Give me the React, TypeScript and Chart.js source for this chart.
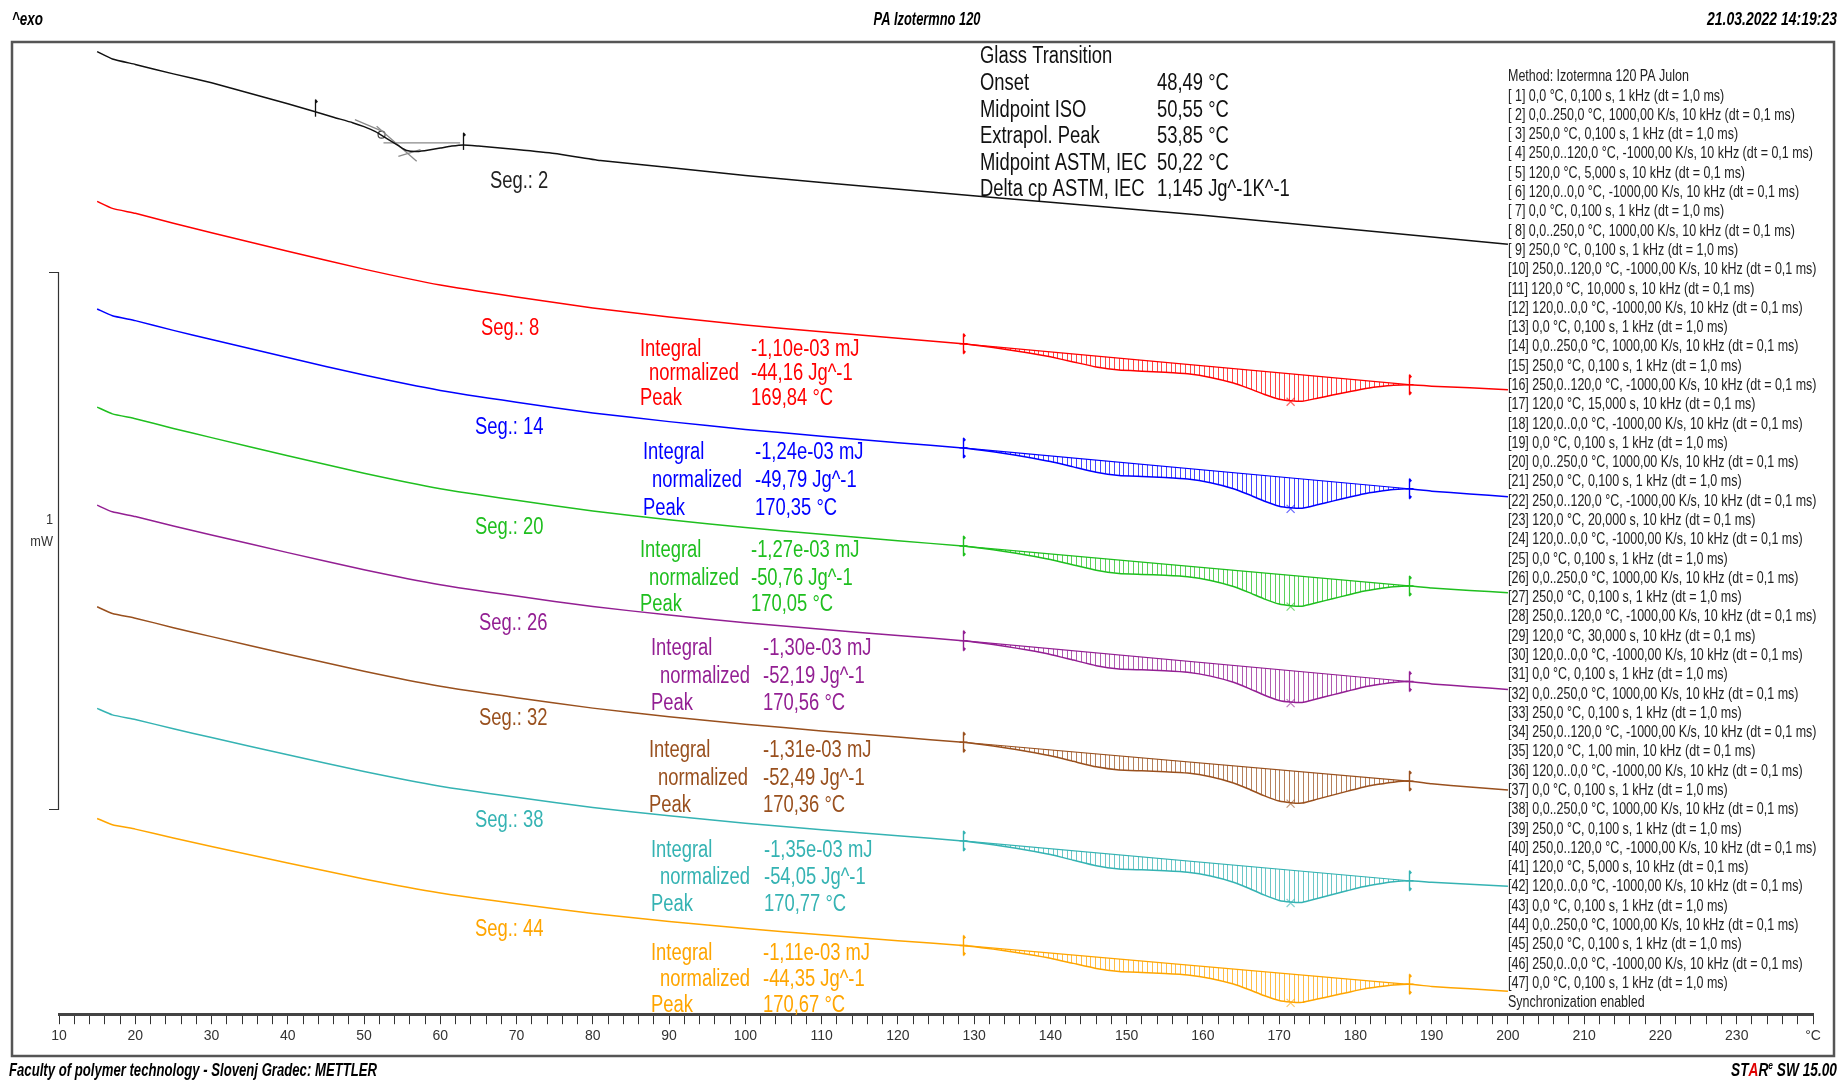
import React, { useEffect, useRef } from "react";
import { Chart, registerables } from "chart.js";

Chart.register(...registerables);

// ---------------- DATA ----------------
// Seg. 2 (black, glass transition)
const blackTemps = [15, 17, 20, 25, 30, 35, 40, 43.6, 46, 48.5, 50, 51.5, 53, 54.5, 55.6, 57, 58.5, 60, 61.5, 63, 65, 70, 75, 81, 90, 100, 110, 125, 140, 160, 178, 200];
const seg2 = [1.7996, 1.7858, 1.7756, 1.7579, 1.7412, 1.7216, 1.702, 1.6872, 1.6769, 1.6667, 1.6592, 1.6499, 1.6369, 1.6238, 1.6145, 1.6127, 1.6155, 1.6192, 1.6229, 1.6251, 1.6229, 1.6164, 1.6089, 1.5959, 1.5829, 1.568, 1.5549, 1.5363, 1.5177, 1.4935, 1.4693, 1.4395];

// Seg. 8 ... 44 (melting curves), temperatures in °C, heat flow in mW (stacked)
const meltTemps = [15, 17, 20, 25, 30, 40, 50, 60, 70, 80, 90, 100, 110, 120, 128.5, 131, 134, 137, 140, 143, 146, 149, 152, 155, 158, 161, 164, 166, 168, 170, 171.5, 173, 175, 177, 179, 181, 183, 185, 187, 190, 195, 200];
const seg8 = [1.5196, 1.5065, 1.4972, 1.4786, 1.4609, 1.4264, 1.3929, 1.3631, 1.3408, 1.3203, 1.3035, 1.2886, 1.2756, 1.2635, 1.2533, 1.2491, 1.2433, 1.2366, 1.2289, 1.2194, 1.21, 1.2042, 1.2021, 1.2001, 1.1971, 1.1904, 1.1799, 1.1699, 1.1589, 1.1497, 1.1469, 1.1458, 1.1516, 1.1574, 1.1631, 1.1689, 1.1728, 1.1758, 1.1769, 1.1741, 1.1709, 1.1676];
const seg14 = [1.3184, 1.3057, 1.2966, 1.2784, 1.2613, 1.2275, 1.1948, 1.166, 1.1441, 1.1241, 1.1078, 1.0932, 1.0805, 1.0685, 1.0587, 1.0544, 1.0484, 1.0414, 1.0333, 1.0232, 1.0131, 1.0071, 1.0053, 1.0034, 1.0005, 0.9935, 0.9823, 0.9715, 0.9595, 0.9497, 0.9467, 0.9458, 0.9524, 0.9592, 0.9659, 0.9726, 0.9772, 0.9808, 0.9823, 0.9778, 0.9726, 0.9674];
const seg20 = [1.135, 1.1223, 1.1132, 1.095, 1.0779, 1.0441, 1.0114, 0.9825, 0.9607, 0.9407, 0.9243, 0.9098, 0.8971, 0.8851, 0.8752, 0.871, 0.8651, 0.8581, 0.8501, 0.8399, 0.8299, 0.8239, 0.8222, 0.8205, 0.8177, 0.8107, 0.7995, 0.7886, 0.7765, 0.7667, 0.7637, 0.7628, 0.7697, 0.7767, 0.7836, 0.7905, 0.7953, 0.7991, 0.8007, 0.7968, 0.7923, 0.7877];
const seg26 = [0.9516, 0.9392, 0.9303, 0.9126, 0.8959, 0.8629, 0.831, 0.8029, 0.7816, 0.7621, 0.7462, 0.732, 0.7196, 0.708, 0.6983, 0.694, 0.6879, 0.6807, 0.6725, 0.662, 0.6516, 0.6455, 0.6438, 0.642, 0.6392, 0.632, 0.6205, 0.6092, 0.5968, 0.5866, 0.5835, 0.5827, 0.5898, 0.597, 0.6042, 0.6113, 0.6163, 0.6202, 0.622, 0.6175, 0.6123, 0.6071];
const seg32 = [0.7616, 0.7492, 0.7404, 0.7226, 0.7059, 0.673, 0.6411, 0.613, 0.5917, 0.5722, 0.5562, 0.5421, 0.5296, 0.518, 0.5084, 0.5042, 0.4982, 0.4912, 0.4831, 0.4727, 0.4624, 0.4565, 0.455, 0.4534, 0.4508, 0.4438, 0.4323, 0.421, 0.4086, 0.3984, 0.3954, 0.3947, 0.4021, 0.4096, 0.417, 0.4244, 0.4297, 0.4338, 0.4358, 0.4307, 0.4249, 0.419];
const seg38 = [0.5717, 0.5596, 0.5509, 0.5336, 0.5172, 0.485, 0.4538, 0.4263, 0.4055, 0.3864, 0.3708, 0.357, 0.3448, 0.3334, 0.324, 0.3197, 0.3137, 0.3066, 0.2984, 0.2879, 0.2775, 0.2715, 0.2699, 0.2682, 0.2655, 0.2584, 0.2468, 0.2355, 0.223, 0.2127, 0.2097, 0.2089, 0.2162, 0.2236, 0.2311, 0.2384, 0.2436, 0.2477, 0.2495, 0.2465, 0.2429, 0.2393];
const seg44 = [0.3659, 0.3543, 0.346, 0.3293, 0.3137, 0.2828, 0.2529, 0.2266, 0.2066, 0.1883, 0.1734, 0.1601, 0.1484, 0.1375, 0.1285, 0.1244, 0.1188, 0.1121, 0.1046, 0.095, 0.0855, 0.0799, 0.0781, 0.0763, 0.0735, 0.0669, 0.0564, 0.0462, 0.035, 0.0258, 0.023, 0.0221, 0.0283, 0.0345, 0.0407, 0.0469, 0.0512, 0.0545, 0.0559, 0.052, 0.0474, 0.0428];

const segLabels = ["Seg.: 2", "Seg.: 8", "Seg.: 14", "Seg.: 20", "Seg.: 26", "Seg.: 32", "Seg.: 38", "Seg.: 44"];
const curveColors = ["#111111", "#ff0000", "#0000ff", "#1fbf1f", "#931f93", "#99501e", "#35b3b3", "#ffa500"];
const integralValues = ["-1,10e-03 mJ", "-1,24e-03 mJ", "-1,27e-03 mJ", "-1,30e-03 mJ", "-1,31e-03 mJ", "-1,35e-03 mJ", "-1,11e-03 mJ"];
const normalizedValues = ["-44,16 Jg^-1", "-49,79 Jg^-1", "-50,76 Jg^-1", "-52,19 Jg^-1", "-52,49 Jg^-1", "-54,05 Jg^-1", "-44,35 Jg^-1"];
const peakValues = ["169,84 °C", "170,35 °C", "170,05 °C", "170,56 °C", "170,36 °C", "170,77 °C", "170,67 °C"];
const integrationLimits = [128.5, 187];
const glassLimits = [43.6, 63];

const glassLabels = ["Onset", "Midpoint ISO", "Extrapol. Peak", "Midpoint ASTM, IEC", "Delta cp ASTM, IEC"];
const glassValues = ["48,49 °C", "50,55 °C", "53,85 °C", "50,22 °C", "1,145 Jg^-1K^-1"];
const tgTangentPre = [[48.8, 1.6723], [52.2, 1.6518]];
const tgTangentInflection = [[51.65, 1.6598], [56.9, 1.5946]];
const tgTangentPost = [[54.5, 1.6039], [57.4, 1.6164]];
const tgStepLine = [[52.55, 1.6289], [62.6, 1.6289]];
const tgMidpoint = [52.3, 1.6443];

const xTickMin = 10;
const xTickMax = 240;
const xTickStep = 2;
const xLabelStep = 10;
const xUnitLabel = "°C";

const methodTitle = "Method: Izotermna 120 PA Julon";
const methodLines = [
  "[ 1] 0,0 °C, 0,100 s, 1 kHz (dt = 1,0 ms)",
  "[ 2] 0,0..250,0 °C, 1000,00 K/s, 10 kHz (dt = 0,1 ms)",
  "[ 3] 250,0 °C, 0,100 s, 1 kHz (dt = 1,0 ms)",
  "[ 4] 250,0..120,0 °C, -1000,00 K/s, 10 kHz (dt = 0,1 ms)",
  "[ 5] 120,0 °C, 5,000 s, 10 kHz (dt = 0,1 ms)",
  "[ 6] 120,0..0,0 °C, -1000,00 K/s, 10 kHz (dt = 0,1 ms)",
  "[ 7] 0,0 °C, 0,100 s, 1 kHz (dt = 1,0 ms)",
  "[ 8] 0,0..250,0 °C, 1000,00 K/s, 10 kHz (dt = 0,1 ms)",
  "[ 9] 250,0 °C, 0,100 s, 1 kHz (dt = 1,0 ms)",
  "[10] 250,0..120,0 °C, -1000,00 K/s, 10 kHz (dt = 0,1 ms)",
  "[11] 120,0 °C, 10,000 s, 10 kHz (dt = 0,1 ms)",
  "[12] 120,0..0,0 °C, -1000,00 K/s, 10 kHz (dt = 0,1 ms)",
  "[13] 0,0 °C, 0,100 s, 1 kHz (dt = 1,0 ms)",
  "[14] 0,0..250,0 °C, 1000,00 K/s, 10 kHz (dt = 0,1 ms)",
  "[15] 250,0 °C, 0,100 s, 1 kHz (dt = 1,0 ms)",
  "[16] 250,0..120,0 °C, -1000,00 K/s, 10 kHz (dt = 0,1 ms)",
  "[17] 120,0 °C, 15,000 s, 10 kHz (dt = 0,1 ms)",
  "[18] 120,0..0,0 °C, -1000,00 K/s, 10 kHz (dt = 0,1 ms)",
  "[19] 0,0 °C, 0,100 s, 1 kHz (dt = 1,0 ms)",
  "[20] 0,0..250,0 °C, 1000,00 K/s, 10 kHz (dt = 0,1 ms)",
  "[21] 250,0 °C, 0,100 s, 1 kHz (dt = 1,0 ms)",
  "[22] 250,0..120,0 °C, -1000,00 K/s, 10 kHz (dt = 0,1 ms)",
  "[23] 120,0 °C, 20,000 s, 10 kHz (dt = 0,1 ms)",
  "[24] 120,0..0,0 °C, -1000,00 K/s, 10 kHz (dt = 0,1 ms)",
  "[25] 0,0 °C, 0,100 s, 1 kHz (dt = 1,0 ms)",
  "[26] 0,0..250,0 °C, 1000,00 K/s, 10 kHz (dt = 0,1 ms)",
  "[27] 250,0 °C, 0,100 s, 1 kHz (dt = 1,0 ms)",
  "[28] 250,0..120,0 °C, -1000,00 K/s, 10 kHz (dt = 0,1 ms)",
  "[29] 120,0 °C, 30,000 s, 10 kHz (dt = 0,1 ms)",
  "[30] 120,0..0,0 °C, -1000,00 K/s, 10 kHz (dt = 0,1 ms)",
  "[31] 0,0 °C, 0,100 s, 1 kHz (dt = 1,0 ms)",
  "[32] 0,0..250,0 °C, 1000,00 K/s, 10 kHz (dt = 0,1 ms)",
  "[33] 250,0 °C, 0,100 s, 1 kHz (dt = 1,0 ms)",
  "[34] 250,0..120,0 °C, -1000,00 K/s, 10 kHz (dt = 0,1 ms)",
  "[35] 120,0 °C, 1,00 min, 10 kHz (dt = 0,1 ms)",
  "[36] 120,0..0,0 °C, -1000,00 K/s, 10 kHz (dt = 0,1 ms)",
  "[37] 0,0 °C, 0,100 s, 1 kHz (dt = 1,0 ms)",
  "[38] 0,0..250,0 °C, 1000,00 K/s, 10 kHz (dt = 0,1 ms)",
  "[39] 250,0 °C, 0,100 s, 1 kHz (dt = 1,0 ms)",
  "[40] 250,0..120,0 °C, -1000,00 K/s, 10 kHz (dt = 0,1 ms)",
  "[41] 120,0 °C, 5,000 s, 10 kHz (dt = 0,1 ms)",
  "[42] 120,0..0,0 °C, -1000,00 K/s, 10 kHz (dt = 0,1 ms)",
  "[43] 0,0 °C, 0,100 s, 1 kHz (dt = 1,0 ms)",
  "[44] 0,0..250,0 °C, 1000,00 K/s, 10 kHz (dt = 0,1 ms)",
  "[45] 250,0 °C, 0,100 s, 1 kHz (dt = 1,0 ms)",
  "[46] 250,0..0,0 °C, -1000,00 K/s, 10 kHz (dt = 0,1 ms)",
  "[47] 0,0 °C, 0,100 s, 1 kHz (dt = 1,0 ms)",
];
const methodFooter = "Synchronization enabled";

const headerLeft = "^exo";
const headerTitle = "PA Izotermno 120";
const headerDate = "21.03.2022 14:19:23";
const footerLeft = "Faculty of polymer technology - Slovenj Gradec: METTLER";
const scaleBarLabel = ["1", "mW"];

// ---------------- LAYOUT (pixels) ----------------
const FONT = '"Liberation Sans", Arial, sans-serif';
const BIG = 23;
const BIG_SX = 0.8;
const SMALL = 16;
const SMALL_SX = 0.78;
const segLabelPos = [[490, 182], [481, 329], [475, 428], [475, 528], [479, 624], [479, 719], [475, 821], [475, 930]];
const blockPos = [
  [640, 751, 350, 374, 399],
  [643, 755, 453, 481, 509],
  [640, 751, 551, 579, 605],
  [651, 763, 649, 677, 704],
  [649, 763, 751, 779, 806],
  [651, 764, 851, 878, 905],
  [651, 763, 954, 980, 1006],
];

const meltSeries = [seg8, seg14, seg20, seg26, seg32, seg38, seg44];

function interp(xs: number[], ys: number[], t: number) {
  if (t <= xs[0]) return ys[0];
  for (let i = 1; i < xs.length; i++) {
    if (t <= xs[i]) {
      const f = (t - xs[i - 1]) / (xs[i] - xs[i - 1]);
      return ys[i - 1] + f * (ys[i] - ys[i - 1]);
    }
  }
  return ys[ys.length - 1];
}

function rgba(hex: string, a: number) {
  const n = parseInt(hex.slice(1), 16);
  return `rgba(${(n >> 16) & 255},${(n >> 8) & 255},${n & 255},${a})`;
}

function text(ctx: any, s: string, x: number, y: number, size: number, color: string, sx = BIG_SX, align = "left", style = "") {
  ctx.save();
  ctx.font = `${style} ${size}px ${FONT}`;
  ctx.fillStyle = color;
  ctx.textBaseline = "middle";
  ctx.textAlign = align;
  ctx.translate(x, y);
  ctx.scale(sx, 1);
  ctx.fillText(s, 0, 0);
  ctx.restore();
}

function fitText(ctx: any, s: string, x: number, y: number, size: number, color: string, width: number, align = "left", style = "") {
  ctx.save();
  ctx.font = `${style} ${size}px ${FONT}`;
  const w = ctx.measureText(s).width;
  ctx.restore();
  text(ctx, s, x, y, size, color, width / w, align, style);
}

const decorPlugin = {
  id: "decor",
  beforeDatasetsDraw(chart: any) {
    const { ctx, scales } = chart;
    const xs = scales.x, ys = scales.y;
    const [t0, t1] = integrationLimits;
    meltSeries.forEach((vals, k) => {
      const b0 = interp(meltTemps, vals, t0);
      const b1 = interp(meltTemps, vals, t1);
      ctx.save();
      ctx.strokeStyle = rgba(curveColors[k + 1], 0.72);
      ctx.lineWidth = 1;
      ctx.beginPath();
      for (let t = t0 + 0.62; t < t1 - 0.2; t += 0.62) {
        const c = interp(meltTemps, vals, t);
        const b = b0 + ((b1 - b0) * (t - t0)) / (t1 - t0);
        const px = Math.round(xs.getPixelForValue(t)) + 0.5;
        ctx.moveTo(px, ys.getPixelForValue(b));
        ctx.lineTo(px, ys.getPixelForValue(c));
      }
      ctx.stroke();
      ctx.restore();
    });
  },
  afterDatasetsDraw(chart: any) {
    const { ctx, scales } = chart;
    const xs = scales.x, ys = scales.y;
    const [t0, t1] = integrationLimits;
    meltSeries.forEach((vals, k) => {
      const col = curveColors[k + 1];
      ctx.save();
      ctx.strokeStyle = col;
      ctx.fillStyle = col;
      ctx.lineWidth = 1.4;
      [t0, t1].forEach((t) => {
        const px = Math.round(xs.getPixelForValue(t)) + 0.5;
        const py = ys.getPixelForValue(interp(meltTemps, vals, t));
        ctx.beginPath();
        ctx.moveTo(px, py - 10);
        ctx.lineTo(px, py + 10);
        ctx.moveTo(px - 4, py);
        ctx.lineTo(px + 4, py);
        ctx.stroke();
        ctx.beginPath();
        ctx.moveTo(px, py - 11);
        ctx.lineTo(px + 2.5, py - 8);
        ctx.lineTo(px, py - 6);
        ctx.closePath();
        ctx.fill();
        ctx.beginPath();
        ctx.moveTo(px, py + 11);
        ctx.lineTo(px + 2.5, py + 8);
        ctx.lineTo(px, py + 6);
        ctx.closePath();
        ctx.fill();
      });
      // peak cross at maximum depth below the baseline
      const b0 = interp(meltTemps, vals, t0);
      const b1 = interp(meltTemps, vals, t1);
      let best = -1, bestD = -1;
      meltTemps.forEach((t, i) => {
        if (t <= t0 || t >= t1) return;
        const d = b0 + ((b1 - b0) * (t - t0)) / (t1 - t0) - vals[i];
        if (d > bestD) { bestD = d; best = i; }
      });
      const cx = xs.getPixelForValue(meltTemps[best]);
      const cy = ys.getPixelForValue(vals[best]) + 1;
      ctx.strokeStyle = rgba(col, 0.6);
      ctx.lineWidth = 1.2;
      ctx.beginPath();
      ctx.moveTo(cx - 4, cy - 4);
      ctx.lineTo(cx + 4, cy + 4);
      ctx.moveTo(cx + 4, cy - 4);
      ctx.lineTo(cx - 4, cy + 4);
      ctx.stroke();
      ctx.restore();
    });
    // glass transition limit markers
    ctx.save();
    ctx.strokeStyle = "#111";
    ctx.fillStyle = "#111";
    ctx.lineWidth = 1.3;
    glassLimits.forEach((t) => {
      const px = Math.round(xs.getPixelForValue(t)) + 0.5;
      const py = ys.getPixelForValue(interp(blackTemps, seg2, t));
      ctx.beginPath();
      ctx.moveTo(px, py - 12);
      ctx.lineTo(px, py + 5);
      ctx.stroke();
      ctx.beginPath();
      ctx.moveTo(px, py - 13);
      ctx.lineTo(px + 2.5, py - 10);
      ctx.lineTo(px, py - 8);
      ctx.closePath();
      ctx.fill();
    });
    ctx.restore();
  },
  afterDraw(chart: any) {
    const ctx = chart.ctx;
    // frame
    ctx.save();
    ctx.strokeStyle = "#555";
    ctx.lineWidth = 2.5;
    ctx.strokeRect(12, 42, 1822, 1014);
    ctx.restore();

    // header
    fitText(ctx, headerLeft, 12, 20, 18, "#000", 31, "left", "italic bold");
    fitText(ctx, headerTitle, 927, 20, 18, "#000", 107, "center", "italic bold");
    fitText(ctx, headerDate, 1837, 20, 18, "#000", 130, "right", "italic bold");

    // footer
    fitText(ctx, footerLeft, 9, 1071, 18, "#000", 368, "left", "italic bold");
    {
      const parts: [string, string, number, number][] = [["ST", "#000", 18, 0], ["A", "#e00000", 18, 0], ["R", "#000", 18, 0], ["e", "#000", 11, -5], [" SW 15.00", "#000", 18, 0]];
      ctx.save();
      let total = 0;
      const widths = parts.map(([s, , sz]) => {
        ctx.font = `italic bold ${sz}px ${FONT}`;
        const w = ctx.measureText(s).width;
        total += w;
        return w;
      });
      const sx = 106 / total;
      ctx.translate(1837 - 106, 1071);
      ctx.scale(sx, 1);
      let cx = 0;
      parts.forEach(([s, col, sz, dy], i) => {
        ctx.font = `italic bold ${sz}px ${FONT}`;
        ctx.fillStyle = col;
        ctx.textBaseline = "middle";
        ctx.textAlign = "left";
        ctx.fillText(s, cx, dy);
        cx += widths[i];
      });
      ctx.restore();
    }

    // glass transition block
    text(ctx, "Glass Transition", 980, 57, BIG, "#111");
    glassLabels.forEach((s, i) => {
      const y = 84 + i * 26.5;
      text(ctx, s, 980, y, BIG, "#111");
      text(ctx, glassValues[i], 1157, y, BIG, "#111");
    });

    // segment labels
    segLabels.forEach((s, i) => {
      const [x, y] = segLabelPos[i];
      text(ctx, s, x, y, BIG, i === 0 ? "#222" : curveColors[i]);
    });

    // integration result blocks
    blockPos.forEach((p, k) => {
      const col = curveColors[k + 1];
      const [lx, vx, y1, y2, y3] = p;
      text(ctx, "Integral", lx, y1, BIG, col);
      text(ctx, integralValues[k], vx, y1, BIG, col);
      text(ctx, "normalized", lx + 9, y2, BIG, col);
      text(ctx, normalizedValues[k], vx, y2, BIG, col);
      text(ctx, "Peak", lx, y3, BIG, col);
      text(ctx, peakValues[k], vx, y3, BIG, col);
    });

    // method list
    const lx = 1508;
    text(ctx, methodTitle, lx, 77, SMALL, "#222", SMALL_SX);
    methodLines.forEach((s, i) => text(ctx, s, lx, 96.2 + i * 19.29, SMALL, "#222", SMALL_SX));
    text(ctx, methodFooter, lx, 96.2 + methodLines.length * 19.29, SMALL, "#222", SMALL_SX);

    // scale bar
    ctx.save();
    ctx.strokeStyle = "#333";
    ctx.lineWidth = 1.2;
    ctx.beginPath();
    ctx.moveTo(49, 272.5);
    ctx.lineTo(58.5, 272.5);
    ctx.lineTo(58.5, 809.5);
    ctx.lineTo(49, 809.5);
    ctx.stroke();
    ctx.restore();
    text(ctx, scaleBarLabel[0], 53, 520, 15, "#333", 0.85, "right");
    text(ctx, scaleBarLabel[1], 53, 542, 15, "#333", 0.85, "right");
  },
};

const toXY = (xs: number[], ys: number[]) => xs.map((x, i) => ({ x, y: ys[i] }));
const pairXY = (pts: number[][]) => pts.map(([x, y]) => ({ x, y }));

export default function App() {
  const ref = useRef<HTMLCanvasElement | null>(null);

  useEffect(() => {
    const canvas = ref.current;
    if (!canvas) return;
    const allCurves = [seg2, ...meltSeries];
    const datasets: any[] = [];
    allCurves.forEach((vals, i) => {
      datasets.push({
        data: i === 0 ? toXY(blackTemps, vals) : toXY(meltTemps, vals),
        borderColor: curveColors[i],
        borderWidth: 1.5,
        pointRadius: 0,
        tension: 0.15,
        fill: false,
      });
    });
    meltSeries.forEach((vals, k) => {
      datasets.push({
        data: integrationLimits.map((t) => ({ x: t, y: interp(meltTemps, vals, t) })),
        borderColor: curveColors[k + 1],
        borderWidth: 1.2,
        pointRadius: 0,
        fill: false,
      });
    });
    [tgTangentPre, tgTangentInflection, tgTangentPost, tgStepLine].forEach((pts) => {
      datasets.push({
        data: pairXY(pts),
        borderColor: "#8a8a8a",
        borderWidth: 1.3,
        pointRadius: 0,
        fill: false,
      });
    });
    datasets.push({
      data: [{ x: tgMidpoint[0], y: tgMidpoint[1] }],
      showLine: false,
      pointRadius: 3.5,
      pointBorderColor: "#444",
      pointBackgroundColor: "rgba(0,0,0,0)",
      pointBorderWidth: 1.2,
    });

    const chart = new Chart(canvas, {
      type: "line",
      data: { datasets },
      options: {
        responsive: false,
        animation: false,
        devicePixelRatio: 1,
        events: [],
        layout: { padding: { left: 59, right: 27, top: 42, bottom: 31 } },
        plugins: { legend: { display: false }, tooltip: { enabled: false } },
        scales: {
          x: {
            type: "linear",
            min: xTickMin,
            max: xTickMax,
            border: { display: true, color: "#444", width: 3 },
            grid: { display: true, drawOnChartArea: false, drawTicks: true, tickLength: 10, color: "#333", lineWidth: 1 },
            ticks: {
              stepSize: xTickStep,
              autoSkip: false,
              maxRotation: 0,
              minRotation: 0,
              padding: 4,
              color: "#333",
              font: { family: "Liberation Sans", size: 14 },
              callback: (v: any) => {
                const n = Number(v);
                if (Math.abs(n % xLabelStep) > 1e-6) return "";
                return n === xTickMax ? xUnitLabel : String(n);
              },
            },
          },
          y: { type: "linear", display: false, min: 0, max: 1.8175 },
        },
      },
      plugins: [decorPlugin],
    } as any);
    return () => chart.destroy();
  }, []);

  return (
    <div style={{ position: "fixed", left: 0, top: 0, width: 1840, height: 1080, background: "#fff" }}>
      <canvas ref={ref} width={1840} height={1080} style={{ width: 1840, height: 1080, display: "block" }} />
    </div>
  );
}
